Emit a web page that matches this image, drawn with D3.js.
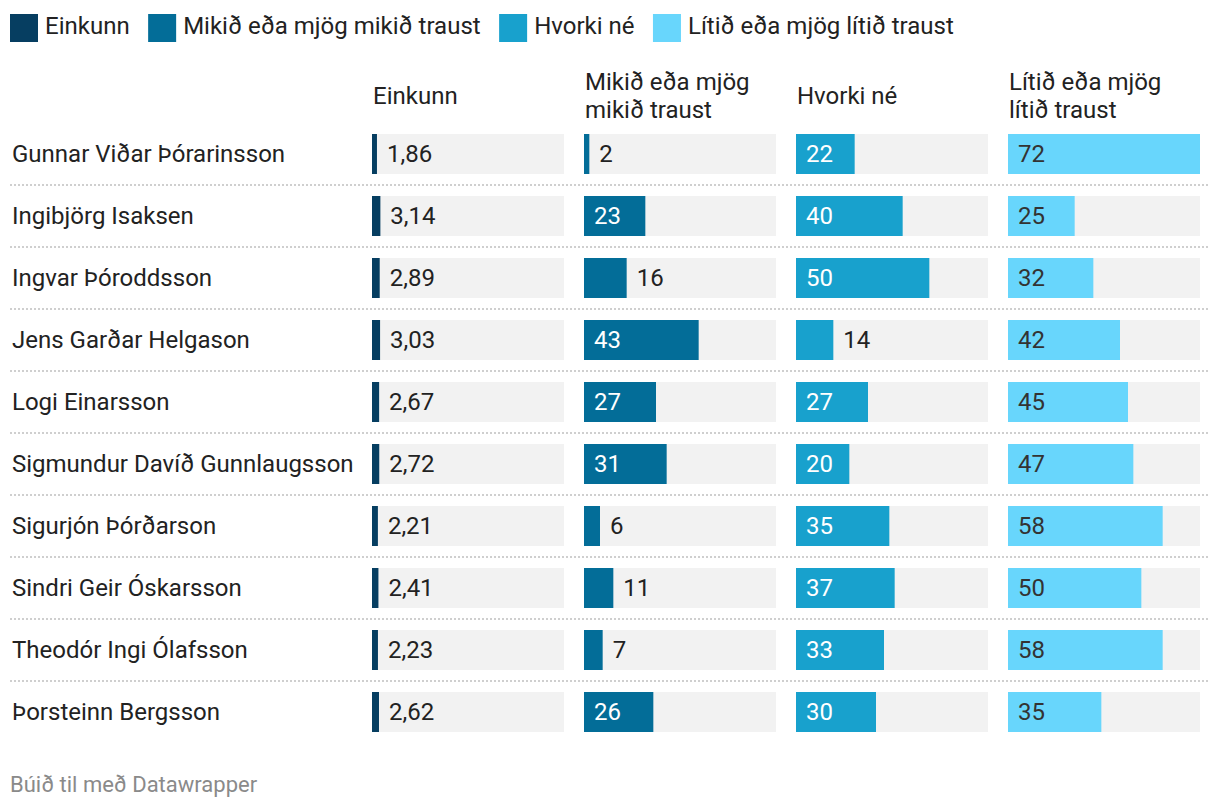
<!DOCTYPE html>
<html>
<head>
<meta charset="utf-8">
<script src="https://cdn.jsdelivr.net/npm/d3@7"></script>
<style>
  html, body { margin: 0; padding: 0; background: #fff; }
  svg { display: block; font-family: Roboto, "Noto Sans", sans-serif; }
</style>
</head>
<body>
<svg id="chart" width="1220" height="810"></svg>
<script>
// ---- data ----
const names = [
  "Gunnar Viðar Þórarinsson",
  "Ingibjörg Isaksen",
  "Ingvar Þóroddsson",
  "Jens Garðar Helgason",
  "Logi Einarsson",
  "Sigmundur Davíð Gunnlaugsson",
  "Sigurjón Þórðarson",
  "Sindri Geir Óskarsson",
  "Theodór Ingi Ólafsson",
  "Þorsteinn Bergsson"
];
const einkunn = [1.86, 3.14, 2.89, 3.03, 2.67, 2.72, 2.21, 2.41, 2.23, 2.62];
const mikid   = [2, 23, 16, 43, 27, 31, 6, 11, 7, 26];
const hvorki  = [22, 40, 50, 14, 27, 20, 35, 37, 33, 30];
const litid   = [72, 25, 32, 42, 45, 47, 58, 50, 58, 35];
const seriesNames = ["Einkunn", "Mikið eða mjög mikið traust", "Hvorki né", "Lítið eða mjög lítið traust"];
const headerLines = [["Einkunn"], ["Mikið eða mjög", "mikið traust"], ["Hvorki né"], ["Lítið eða mjög", "lítið traust"]];
const footerText = "Búið til með Datawrapper";

// ---- style ----
const colors = ["#063e61", "#036d98", "#18a1cd", "#68d6fc"];
const insideTextColors = ["#ffffff", "#ffffff", "#ffffff", "#333333"];
const textColor = "#222";
const fontSize = 24;

const seriesValues = [einkunn, mikid, hvorki, litid];
const svg = d3.select("#chart");

// legend
const legend = svg.append("g");
let lx = 10;
seriesNames.forEach((s, i) => {
  const g = legend.append("g").attr("transform", `translate(${lx},0)`);
  g.append("rect").attr("x", 0).attr("y", 14).attr("width", 28).attr("height", 28).attr("fill", colors[i]);
  const t = g.append("text").attr("x", 35).attr("y", 26).attr("dy", "0.35em")
    .attr("font-size", fontSize).attr("fill", textColor).text(s);
  const w = t.node().getComputedTextLength();
  lx += 35 + w + 18.5;
});

// layout scales
const colStarts = [372, 584, 796, 1008];
const colWidth = 192;
const x = d3.scaleLinear().domain([0, d3.max(litid.concat(hvorki, mikid))]).range([0, colWidth]);
const y = d3.scaleBand().domain(names).range([123, 743]).paddingInner(22/62).paddingOuter(11/62);

// headers
headerLines.forEach((lines, i) => {
  const t = svg.append("text").attr("font-size", fontSize).attr("fill", textColor);
  const startY = lines.length === 1 ? 96 : 82;
  lines.forEach((ln, j) => {
    t.append("tspan").attr("x", colStarts[i] + 1).attr("y", startY + j * 28).attr("dy", "0.35em").text(ln);
  });
});

// separators
names.slice(0, -1).forEach((n, i) => {
  const yy = y(n) + y.bandwidth() + (y.step() - y.bandwidth()) / 2;
  svg.append("line").attr("x1", 10).attr("x2", 1210).attr("y1", yy).attr("y2", yy)
    .attr("stroke", "#cfcfcf").attr("stroke-width", 2).attr("stroke-dasharray", "2,2");
});

// row names
svg.append("g").selectAll("text").data(names).join("text")
  .attr("x", 12).attr("y", d => y(d) + y.bandwidth() / 2).attr("dy", "0.35em")
  .attr("font-size", fontSize).attr("fill", textColor).text(d => d);

// bars
const fmt = (v, i) => i === 0 ? d3.format(".2f")(v).replace(".", ",") : String(v);
seriesValues.forEach((vals, ci) => {
  const g = svg.append("g").attr("transform", `translate(${colStarts[ci]},0)`);
  g.selectAll("rect.bg").data(names).join("rect").attr("class", "bg")
    .attr("x", 0).attr("y", d => y(d)).attr("width", colWidth).attr("height", y.bandwidth())
    .attr("fill", "#f2f2f2");
  g.selectAll("rect.bar").data(vals).join("rect").attr("class", "bar")
    .attr("x", 0).attr("y", (d, i) => y(names[i])).attr("width", d => x(d)).attr("height", y.bandwidth())
    .attr("fill", colors[ci]);
  vals.forEach((v, i) => {
    const t = g.append("text").attr("y", y(names[i]) + y.bandwidth() / 2).attr("dy", "0.35em")
      .attr("font-size", fontSize).text(fmt(v, ci));
    const tw = t.node().getComputedTextLength();
    const bw = x(v);
    if (tw + 24 <= bw) {
      t.attr("x", 10).attr("fill", insideTextColors[ci]);
    } else {
      t.attr("x", bw + 10).attr("fill", textColor);
    }
  });
});

// footer
svg.append("text").attr("x", 10).attr("y", 784).attr("dy", "0.35em")
  .attr("font-size", 22).attr("fill", "#8a8a8a").text(footerText);
</script>
</body>
</html>
